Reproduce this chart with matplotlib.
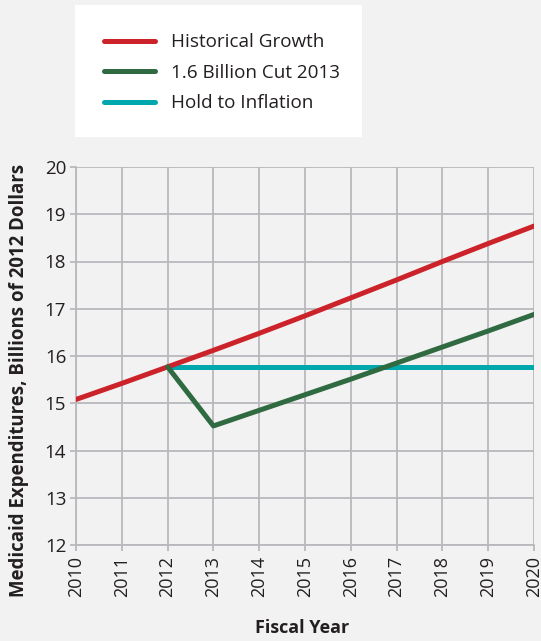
import matplotlib
matplotlib.use("Agg")
import matplotlib.pyplot as plt
from matplotlib.patches import Rectangle
from matplotlib.lines import Line2D

years = [2010, 2011, 2012, 2013, 2014, 2015, 2016, 2017, 2018, 2019, 2020]
historical = [15.08, 15.42, 15.77, 16.12, 16.48, 16.85, 17.23, 17.61, 18.00, 18.38, 18.75]
cut_years = [2012, 2013, 2014, 2015, 2016, 2017, 2018, 2019, 2020]
cut = [15.77, 14.52, 14.85, 15.18, 15.51, 15.85, 16.19, 16.53, 16.88]
hold_years = [2012, 2013, 2014, 2015, 2016, 2017, 2018, 2019, 2020]
hold = [15.77] * 9
yticks = [12, 13, 14, 15, 16, 17, 18, 19, 20]

series_names = ["Historical Growth", "1.6 Billion Cut 2013", "Hold to Inflation"]
colors = ["#cc2229", "#2f6a40", "#00a8ae"]

plt.rcParams['font.family'] = ['Open Sans', 'DejaVu Sans']
bg = "#f2f2f2"
grid_c = "#b9b9bd"
txt = "#231f20"

fig = plt.figure(figsize=(5.41, 6.41), dpi=100, facecolor=bg)
W, H = 541, 641
ax = fig.add_axes([76 / W, 1 - 545 / H, (534 - 76) / W, (545 - 167) / H])
ax.set_facecolor(bg)

lw = 3.6
ax.plot(years, historical, color=colors[0], lw=lw, solid_capstyle='round', zorder=3)
ax.plot(cut_years, cut, color=colors[1], lw=lw, solid_capstyle='round', zorder=3)
ax.plot(hold_years, hold, color=colors[2], lw=lw, solid_capstyle='round', zorder=2)

ax.set_xlim(2010, 2020)
ax.set_ylim(12, 20)
ax.set_xticks(years)
ax.set_xticklabels([str(y) for y in years], rotation=90, fontsize=13, color=txt)
ax.set_yticks(yticks)
ax.set_yticklabels([str(v) for v in yticks], fontsize=13.5, color=txt)
ax.grid(True, color=grid_c, lw=1.3, zorder=0)
ax.set_axisbelow(True)
for s in ax.spines.values():
    s.set_visible(False)
for side in ('left', 'bottom'):
    ax.spines[side].set_visible(True)
    ax.spines[side].set_color(grid_c)
    ax.spines[side].set_linewidth(1.3)
ax.tick_params(axis='both', color=grid_c, length=4, width=1.3, pad=3)
ax.tick_params(axis='x', pad=4)

ax.set_xlabel("Fiscal Year", fontsize=13, fontweight='bold', color=txt)
ax.xaxis.set_label_coords((302 - 76) / 458, (545 - 619) / 378)
ax.set_ylabel("Medicaid Expenditures, Billions of 2012 Dollars", fontsize=13.4,
              fontweight='bold', color=txt)
ax.yaxis.set_label_coords((29 - 76) / 458, (545 - 380) / 378)

# legend box
fig.patches.append(Rectangle((75 / W, 1 - 137 / H), (362 - 75) / W, (137 - 5) / H,
                             transform=fig.transFigure, facecolor='white',
                             edgecolor='none', zorder=0))
handles = [Line2D([], [], color=c, lw=3.6, solid_capstyle='round') for c in colors]
leg = fig.legend(handles, series_names, loc='upper left',
                 bbox_to_anchor=(95 / W, 1 - 24 / H), frameon=False,
                 fontsize=13.6, handlelength=2.7, handletextpad=0.8,
                 labelspacing=0.66, borderpad=0)
for t in leg.get_texts():
    t.set_color(txt)

fig.savefig("out.png", dpi=100, facecolor=bg)
